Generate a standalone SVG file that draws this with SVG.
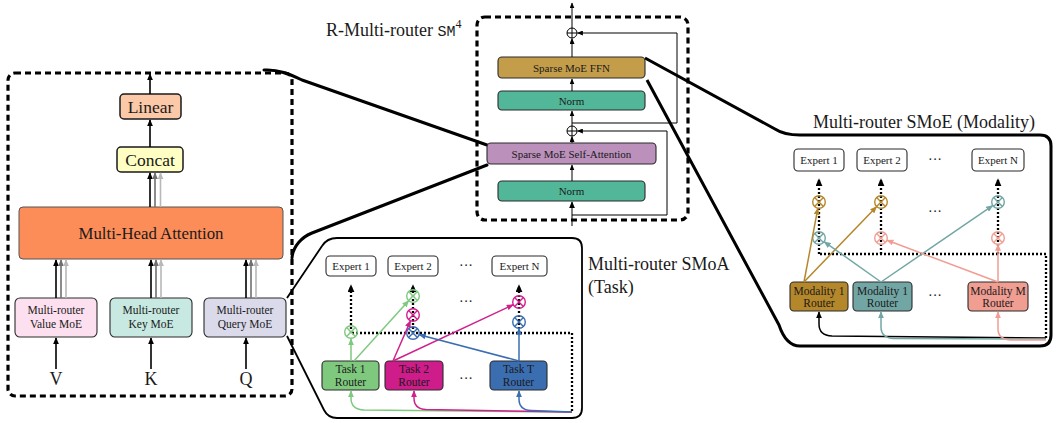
<svg xmlns="http://www.w3.org/2000/svg" width="1057" height="423" viewBox="0 0 1057 423">
<style>
  text { font-family: "Liberation Serif", "Times New Roman", serif; fill: #1a1a1a; }
  .c { text-anchor: middle; }
  .s11 { font-size: 11px; }
  .s12 { font-size: 11.5px; }
  .title { font-size: 18px; }
  .box { stroke: #2a2a2a; stroke-width: 1.1; }
  .lbox { stroke: #1a1a1a; stroke-width: 1.5; }
  .dash { fill: none; stroke: #000; stroke-width: 3.2; stroke-dasharray: 6 4; }
  .thick { fill: none; stroke: #000; stroke-width: 3; stroke-linejoin: round; stroke-linecap: round; }
  .callout { fill: none; stroke: #000; stroke-width: 1.8; stroke-linejoin: round; }
  .callout2 { fill: none; stroke: #000; stroke-width: 3; stroke-linejoin: round; }
  .dot { fill: none; stroke: #000; stroke-width: 2.3; stroke-dasharray: 2 2; }
  .ln { fill: none; stroke: #000; stroke-width: 1; }
  .la { fill: none; stroke-width: 1.6; }
  .ca { fill: none; stroke-width: 1.5; }
</style>
<defs>
  <marker id="ak" viewBox="0 0 10 10" refX="9" refY="5" markerWidth="7" markerHeight="6" markerUnits="userSpaceOnUse" orient="auto" preserveAspectRatio="none"><path d="M0,0 L10,5 L0,10 z" fill="#000"/></marker>
  <marker id="ag1" viewBox="0 0 10 10" refX="9" refY="5" markerWidth="7" markerHeight="6" markerUnits="userSpaceOnUse" orient="auto" preserveAspectRatio="none"><path d="M0,0 L10,5 L0,10 z" fill="#707070"/></marker>
  <marker id="ag2" viewBox="0 0 10 10" refX="9" refY="5" markerWidth="7" markerHeight="6" markerUnits="userSpaceOnUse" orient="auto" preserveAspectRatio="none"><path d="M0,0 L10,5 L0,10 z" fill="#b8b8b8"/></marker>
  <marker id="aks" viewBox="0 0 10 10" refX="9" refY="5" markerWidth="6" markerHeight="5" markerUnits="userSpaceOnUse" orient="auto" preserveAspectRatio="none"><path d="M0,0 L10,5 L0,10 z" fill="#000"/></marker>
  <marker id="ake" viewBox="0 0 10 10" refX="9" refY="5" markerWidth="8" markerHeight="7" markerUnits="userSpaceOnUse" orient="auto" preserveAspectRatio="none"><path d="M0,0 L10,5 L0,10 z" fill="#000"/></marker>
  <marker id="agr" viewBox="0 0 10 10" refX="9" refY="5" markerWidth="7" markerHeight="6" markerUnits="userSpaceOnUse" orient="auto" preserveAspectRatio="none"><path d="M0,0 L10,5 L0,10 z" fill="#7fc97f"/></marker>
  <marker id="amg" viewBox="0 0 10 10" refX="9" refY="5" markerWidth="7" markerHeight="6" markerUnits="userSpaceOnUse" orient="auto" preserveAspectRatio="none"><path d="M0,0 L10,5 L0,10 z" fill="#d0208c"/></marker>
  <marker id="abl" viewBox="0 0 10 10" refX="9" refY="5" markerWidth="7" markerHeight="6" markerUnits="userSpaceOnUse" orient="auto" preserveAspectRatio="none"><path d="M0,0 L10,5 L0,10 z" fill="#3b6db1"/></marker>
  <marker id="ago" viewBox="0 0 10 10" refX="9" refY="5" markerWidth="7" markerHeight="6" markerUnits="userSpaceOnUse" orient="auto" preserveAspectRatio="none"><path d="M0,0 L10,5 L0,10 z" fill="#b5872b"/></marker>
  <marker id="ate" viewBox="0 0 10 10" refX="9" refY="5" markerWidth="7" markerHeight="6" markerUnits="userSpaceOnUse" orient="auto" preserveAspectRatio="none"><path d="M0,0 L10,5 L0,10 z" fill="#72a6a5"/></marker>
  <marker id="asa" viewBox="0 0 10 10" refX="9" refY="5" markerWidth="7" markerHeight="6" markerUnits="userSpaceOnUse" orient="auto" preserveAspectRatio="none"><path d="M0,0 L10,5 L0,10 z" fill="#f09d92"/></marker>
  <!-- gating product symbol, coloured via currentColor -->
  <g id="otimes">
    <circle r="6.3" fill="none" stroke="currentColor" stroke-width="1.4"/>
    <path d="M-4.4,-4.4 L4.4,4.4 M-4.4,4.4 L4.4,-4.4" stroke="currentColor" stroke-width="1.4"/>
  </g>
  <!-- residual sum symbol -->
  <g id="oplus">
    <circle r="5" fill="#fff" stroke="#000" stroke-width="1"/>
    <path d="M-5,0 L5,0 M0,-5 L0,5" stroke="#000" stroke-width="1"/>
  </g>
</defs>

<rect width="1057" height="423" fill="#fff"/>

<!-- frames -->
<g id="frames">
  <rect class="dash" x="8" y="73" width="284" height="323" rx="7"/>
  <rect class="dash" x="477" y="17" width="211" height="203" rx="8"/>
  <!-- callout shapes linking the block to its expanded views -->
  <path class="thick" d="M264,70 C278,69 290,74 302,80 L487,145"/>
  <path class="thick" d="M487,165 L312,233 C302,237 293,246 292,258"/>
  <path class="callout" d="M287,298 L322,246 Q327,238 337,238 L572,238 Q582,238 582,248 L582,408 Q582,418 572,418 L337,418 Q328,418 324,410 L287,336"/>
  <path class="callout2" d="M645,58 L775,129 Q784,135 800,135 L1040,135 Q1051,135 1051,146 L1051,335 Q1051,346 1040,346 L800,346 Q786,346 779,325 L647,80"/>
</g>

<!-- titles -->
<g id="titles">
  <text class="title" x="326" y="36">R-Multi-router <tspan font-family="Liberation Mono, monospace" font-size="15">SM</tspan><tspan font-size="12" dy="-8">4</tspan></text>
  <text class="title" x="588" y="270">Multi-router SMoA</text>
  <text class="title" x="588" y="293">(Task)</text>
  <text class="title c" x="924" y="128">Multi-router SMoE (Modality)</text>
</g>

<!-- attention block nodes -->
<g id="linear">
  <rect class="lbox" x="120" y="94" width="61" height="25" rx="4" fill="#fbc9a7"/>
  <text class="c" x="150.5" y="112.5" font-size="17.5">Linear</text>
</g>
<g id="concat">
  <rect class="lbox" x="117" y="147" width="66" height="25" rx="4" fill="#ffffc4"/>
  <text class="c" x="150" y="165.5" font-size="17.5">Concat</text>
</g>
<g id="mha">
  <rect x="19" y="207" width="264" height="52" rx="4" fill="#fc8d59" stroke="#555" stroke-width="1"/>
  <text class="c" x="151" y="238.5" font-size="16.8">Multi-Head Attention</text>
</g>
<g id="value-moe">
  <rect class="box" x="15" y="298" width="82" height="39" rx="5" fill="#fde0ef"/>
  <text class="c s12" x="56" y="314">Multi-router</text>
  <text class="c s12" x="56" y="328">Value MoE</text>
</g>
<g id="key-moe">
  <rect class="box" x="110" y="298" width="82" height="39" rx="5" fill="#c7e9e1"/>
  <text class="c s12" x="151" y="314">Multi-router</text>
  <text class="c s12" x="151" y="328">Key MoE</text>
</g>
<g id="query-moe">
  <rect class="box" x="204" y="298" width="82" height="39" rx="5" fill="#dadaeb"/>
  <text class="c s12" x="245" y="314">Multi-router</text>
  <text class="c s12" x="245" y="328">Query MoE</text>
</g>
<g id="inputs">
  <text class="c" x="56" y="385" font-size="18">V</text>
  <text class="c" x="151" y="385" font-size="18">K</text>
  <text class="c" x="246" y="385" font-size="18">Q</text>
</g>

<!-- transformer block nodes -->
<g id="ffn">
  <rect class="box" x="498" y="57" width="147" height="21" rx="4" fill="#c49d4a"/>
  <text class="c s11" x="571.5" y="71.5">Sparse MoE FFN</text>
</g>
<g id="norm-2">
  <rect class="box" x="498" y="91" width="147" height="19" rx="4" fill="#52b798"/>
  <text class="c s11" x="571.5" y="104.5">Norm</text>
</g>
<g id="self-attn">
  <rect class="box" x="487" y="143" width="169" height="21" rx="4" fill="#bb90bb"/>
  <text class="c s11" x="571.5" y="157.5">Sparse MoE Self-Attention</text>
</g>
<g id="norm-1">
  <rect class="box" x="498" y="181" width="147" height="20" rx="4" fill="#52b798"/>
  <text class="c s11" x="571.5" y="195">Norm</text>
</g>

<!-- task panel nodes -->
<g id="task-expert-1">
  <rect class="box" x="326" y="256" width="50" height="20" rx="4" fill="#fff"/>
  <text class="c s11" x="351" y="270">Expert 1</text>
</g>
<g id="task-expert-2">
  <rect class="box" x="388" y="256" width="50" height="20" rx="4" fill="#fff"/>
  <text class="c s11" x="413" y="270">Expert 2</text>
</g>
<g id="task-expert-n">
  <rect class="box" x="492" y="256" width="55" height="20" rx="4" fill="#fff"/>
  <text class="c s11" x="519.5" y="270">Expert N</text>
</g>
<g id="task-router-1">
  <rect class="box" x="322" y="361" width="57" height="29" rx="4" fill="#7fc97f"/>
  <text class="c s12" x="350.5" y="373">Task 1</text>
  <text class="c s12" x="350.5" y="386">Router</text>
</g>
<g id="task-router-2">
  <rect class="box" x="385" y="361" width="58" height="29" rx="4" fill="#ce1c8a"/>
  <text class="c s12" x="414" y="373">Task 2</text>
  <text class="c s12" x="414" y="386">Router</text>
</g>
<g id="task-router-t">
  <rect class="box" x="490" y="361" width="57" height="29" rx="4" fill="#3b6db1"/>
  <text class="c s12" x="518.5" y="373">Task T</text>
  <text class="c s12" x="518.5" y="386">Router</text>
</g>

<!-- modality panel nodes -->
<g id="mod-expert-1">
  <rect class="box" x="794" y="149" width="50" height="22" rx="4" fill="#fff"/>
  <text class="c s11" x="819" y="164">Expert 1</text>
</g>
<g id="mod-expert-2">
  <rect class="box" x="857" y="149" width="50" height="22" rx="4" fill="#fff"/>
  <text class="c s11" x="882" y="164">Expert 2</text>
</g>
<g id="mod-expert-n">
  <rect class="box" x="972" y="149" width="52" height="22" rx="4" fill="#fff"/>
  <text class="c s11" x="998" y="164">Expert N</text>
</g>
<g id="mod-router-1a">
  <rect class="box" x="790" y="282" width="58" height="29" rx="4" fill="#b5872b"/>
  <text class="c s12" x="819" y="295">Modality 1</text>
  <text class="c s12" x="819" y="307">Router</text>
</g>
<g id="mod-router-1b">
  <rect class="box" x="853" y="282" width="59" height="29" rx="4" fill="#72a6a5"/>
  <text class="c s12" x="882.5" y="295">Modality 1</text>
  <text class="c s12" x="882.5" y="307">Router</text>
</g>
<g id="mod-router-m">
  <rect class="box" x="968" y="282" width="60" height="29" rx="4" fill="#f09d92"/>
  <text class="c s12" x="998" y="295">Modality M</text>
  <text class="c s12" x="998" y="307">Router</text>
</g>

<!-- ellipses -->
<g id="ellipses" font-size="14">
  <text class="c" x="466" y="269.5">···</text>
  <text class="c" x="466" y="306">···</text>
  <text class="c" x="466" y="383">···</text>
  <text class="c" x="935" y="164">···</text>
  <text class="c" x="935" y="216">···</text>
  <text class="c" x="935" y="300">···</text>
</g>

<g id="connectors">
  <!-- attention block -->
  <path class="la" stroke="#000" d="M150,94 L150,74" marker-end="url(#ak)"/>
  <path class="la" stroke="#000" d="M150,147 L150,120" marker-end="url(#ak)"/>
  <path class="la" stroke="#000" d="M150,207 L150,173" marker-end="url(#ak)"/>
  <path class="la" stroke="#707070" d="M155,207 L155,173" marker-end="url(#ag1)"/>
  <path class="la" stroke="#b8b8b8" d="M160.5,207 L160.5,173" marker-end="url(#ag2)"/>
  <path class="la" stroke="#000" d="M56,298 L56,260" marker-end="url(#ak)"/>
  <path class="la" stroke="#707070" d="M61,298 L61,260" marker-end="url(#ag1)"/>
  <path class="la" stroke="#b8b8b8" d="M66,298 L66,260" marker-end="url(#ag2)"/>
  <path class="la" stroke="#000" d="M151,298 L151,260" marker-end="url(#ak)"/>
  <path class="la" stroke="#707070" d="M156,298 L156,260" marker-end="url(#ag1)"/>
  <path class="la" stroke="#b8b8b8" d="M161,298 L161,260" marker-end="url(#ag2)"/>
  <path class="la" stroke="#000" d="M246,298 L246,260" marker-end="url(#ak)"/>
  <path class="la" stroke="#707070" d="M251,298 L251,260" marker-end="url(#ag1)"/>
  <path class="la" stroke="#b8b8b8" d="M256,298 L256,260" marker-end="url(#ag2)"/>
  <path class="la" stroke="#000" d="M56,369 L56,338" marker-end="url(#ak)"/>
  <path class="la" stroke="#000" d="M151,369 L151,338" marker-end="url(#ak)"/>
  <path class="la" stroke="#000" d="M246,369 L246,338" marker-end="url(#ak)"/>

  <!-- transformer block -->
  <path class="ln" stroke-width="2" d="M572,226 L572,202" marker-end="url(#ak)"/>
  <path class="ln" d="M572,181 L572,165" marker-end="url(#aks)"/>
  <path class="ln" d="M572,143 L572,136.5" marker-end="url(#aks)"/>
  <path class="ln" d="M572,126 L572,111" marker-end="url(#aks)"/>
  <path class="ln" d="M572,91 L572,79" marker-end="url(#aks)"/>
  <path class="ln" d="M572,57 L572,38.5" marker-end="url(#aks)"/>
  <path class="ln" d="M572,28 L572,3" marker-end="url(#aks)"/>
  <path class="ln" d="M572,215 L667,215 L667,131 L577.5,131" marker-end="url(#aks)"/>
  <path class="ln" d="M572,123 L677,123 L677,33 L577.5,33" marker-end="url(#aks)"/>
  <use href="#oplus" x="572" y="131"/>
  <use href="#oplus" x="572" y="33"/>

  <!-- task panel: token paths -->
  <path class="dot" d="M572,411 L572,333 L351,333"/>
  <path class="dot" d="M351,333 L351,285" marker-end="url(#ake)"/>
  <path class="dot" d="M413,333 L413,285" marker-end="url(#ake)"/>
  <path class="dot" d="M519,333 L519,285" marker-end="url(#ake)"/>
  <use href="#otimes" x="351" y="332" style="color:#7fc97f"/>
  <use href="#otimes" x="413" y="296" style="color:#7fc97f"/>
  <use href="#otimes" x="413" y="315" style="color:#d0208c"/>
  <use href="#otimes" x="413" y="333" style="color:#3b6db1"/>
  <use href="#otimes" x="519" y="302" style="color:#d0208c"/>
  <use href="#otimes" x="519" y="322" style="color:#3b6db1"/>
  <!-- task panel: router gates -->
  <path class="ca" stroke="#7fc97f" d="M351,361 L351,339" marker-end="url(#agr)"/>
  <path class="ca" stroke="#7fc97f" d="M354,361 L408.6,300.8" marker-end="url(#agr)"/>
  <path class="ca" stroke="#d0208c" d="M393,361 L410.4,321" marker-end="url(#amg)"/>
  <path class="ca" stroke="#d0208c" d="M393,361 L513.1,304.8" marker-end="url(#amg)"/>
  <path class="ca" stroke="#3b6db1" d="M519,361 L519,328.5" marker-end="url(#abl)"/>
  <path class="ca" stroke="#3b6db1" d="M519,361 L419.3,334.7" marker-end="url(#abl)"/>
  <!-- task panel: router inputs -->
  <path class="ca" stroke="#7fc97f" d="M572,412 L364,410 Q351,409.5 351,398 L351,391" marker-end="url(#agr)"/>
  <path class="ca" stroke="#d0208c" d="M572,412 L426,409.5 Q414,409 414,398 L414,391" marker-end="url(#amg)"/>
  <path class="ca" stroke="#3b6db1" d="M572,412 L531,410.5 Q519,410 519,399 L519,391" marker-end="url(#abl)"/>

  <!-- modality panel: token paths -->
  <path class="dot" d="M1046,338 L1046,254 L819,254"/>
  <path class="dot" d="M819,254 L819,179" marker-end="url(#ake)"/>
  <path class="dot" d="M881,254 L881,179" marker-end="url(#ake)"/>
  <path class="dot" d="M998,254 L998,179" marker-end="url(#ake)"/>
  <use href="#otimes" x="819" y="202" style="color:#b5872b"/>
  <use href="#otimes" x="881" y="202" style="color:#b5872b"/>
  <use href="#otimes" x="998" y="202" style="color:#72a6a5"/>
  <use href="#otimes" x="819" y="238" style="color:#72a6a5"/>
  <use href="#otimes" x="881" y="238" style="color:#f09d92"/>
  <use href="#otimes" x="998" y="238" style="color:#f09d92"/>
  <!-- modality panel: router gates -->
  <path class="ca" stroke="#b5872b" d="M804,282 L817.8,208.4" marker-end="url(#ago)"/>
  <path class="ca" stroke="#b5872b" d="M804,282 L876.5,206.7" marker-end="url(#ago)"/>
  <path class="ca" stroke="#72a6a5" d="M881,282 L824.3,241.8" marker-end="url(#ate)"/>
  <path class="ca" stroke="#72a6a5" d="M881,282 L992.6,205.7" marker-end="url(#ate)"/>
  <path class="ca" stroke="#f09d92" d="M998,282 L998,244.5" marker-end="url(#asa)"/>
  <path class="ca" stroke="#f09d92" d="M998,282 L887.1,240.3" marker-end="url(#asa)"/>
  <!-- modality panel: router inputs -->
  <path class="ca" stroke="#000" d="M1046,338 L832,336 Q819,335.5 819,324 L819,312" marker-end="url(#ak)"/>
  <path class="ca" stroke="#72a6a5" d="M1046,339 L894,338.5 Q881,338 881,327 L881,312" marker-end="url(#ate)"/>
  <path class="ca" stroke="#f09d92" d="M1046,340 L1011,340 Q998,339.5 998,329 L998,312" marker-end="url(#asa)"/>
</g>
</svg>
